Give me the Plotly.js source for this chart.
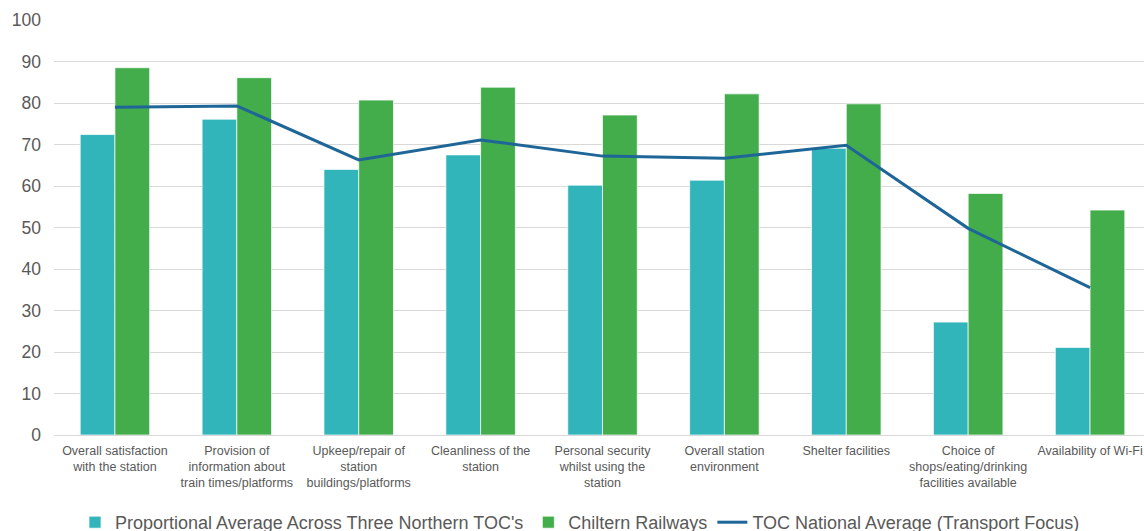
<!DOCTYPE html>
<html>
<head>
<meta charset="utf-8">
<script src="https://cdn.plot.ly/plotly-3.0.1.min.js"></script>
<style>
  html, body { margin: 0; padding: 0; background: #fff; overflow: hidden; }
  #chart { width: 1160px; height: 541px; }
</style>
</head>
<body>
<div id="chart"></div>
<script>
// Station satisfaction measures (x-axis categories, multi-line labels)
const categories = [
  "Overall satisfaction<br>with the station",
  "Provision of<br>information about<br>train times/platforms",
  "Upkeep/repair of<br>station<br>buildings/platforms",
  "Cleanliness of the<br>station",
  "Personal security<br>whilst using the<br>station",
  "Overall station<br>environment",
  "Shelter facilities",
  "Choice of<br>shops/eating/drinking<br>facilities available",
  "Availability of Wi-Fi"
];

// Proportional Average Across Three Northern TOC's (%)
const northernAvg = [72.4, 76.1, 64.0, 67.5, 60.2, 61.4, 69.1, 27.2, 21.1];

// Chiltern Railways (%)
const chiltern = [88.5, 86.1, 80.7, 83.8, 77.1, 82.2, 79.8, 58.2, 54.2];

// TOC National Average (Transport Focus) (%)
const nationalAvg = [79.0, 79.3, 66.3, 71.1, 67.2, 66.7, 69.8, 49.8, 35.5];

const yTicks = [0, 10, 20, 30, 40, 50, 60, 70, 80, 90, 100];

const barOutline = { color: "rgba(255,255,255,0.7)", width: 1 };

const traces = [
  {
    type: "bar",
    name: "Proportional Average Across Three Northern TOC's",
    x: categories,
    y: northernAvg,
    marker: { color: "#31b5bb", line: barOutline },
    hoverinfo: "y"
  },
  {
    type: "bar",
    name: "Chiltern Railways",
    x: categories,
    y: chiltern,
    marker: { color: "#43ac4b", line: barOutline },
    hoverinfo: "y"
  },
  {
    type: "scatter",
    mode: "lines",
    name: "TOC National Average (Transport Focus)",
    x: categories,
    y: nationalAvg,
    line: { color: "#1f6698", width: 3 },
    hoverinfo: "y"
  }
];

const layout = {
  width: 1160,
  height: 541,
  margin: { l: 54, r: 9, t: 20, b: 106 },
  paper_bgcolor: "#ffffff",
  plot_bgcolor: "#ffffff",
  font: { family: "Liberation Sans, Arial, sans-serif", color: "#595959" },
  barmode: "group",
  bargap: 0.43,
  bargroupgap: 0,
  showlegend: true,
  legend: {
    orientation: "h",
    xref: "container",
    yref: "container",
    x: 0.5,
    xanchor: "center",
    y: 0,
    yanchor: "bottom",
    font: { size: 18, color: "#595959" },
    traceorder: "normal",
    itemwidth: 30
  },
  xaxis: {
    type: "category",
    tickfont: { size: 12.5, color: "#595959" },
    showgrid: false,
    showline: false,
    ticks: "",
    ticklabelstandoff: 6,
    automargin: false
  },
  yaxis: {
    range: [0, 100],
    tickvals: yTicks,
    ticktext: yTicks.map(String),
    tickfont: { size: 17.5, color: "#595959" },
    showgrid: true,
    gridcolor: "#d9d9d9",
    gridwidth: 1,
    zeroline: true,
    zerolinecolor: "#d9d9d9",
    zerolinewidth: 1,
    showline: false,
    ticks: "",
    ticklabelstandoff: 12,
    automargin: false
  }
};

Plotly.newPlot("chart", traces, layout, { displayModeBar: false, staticPlot: true });
</script>
</body>
</html>
